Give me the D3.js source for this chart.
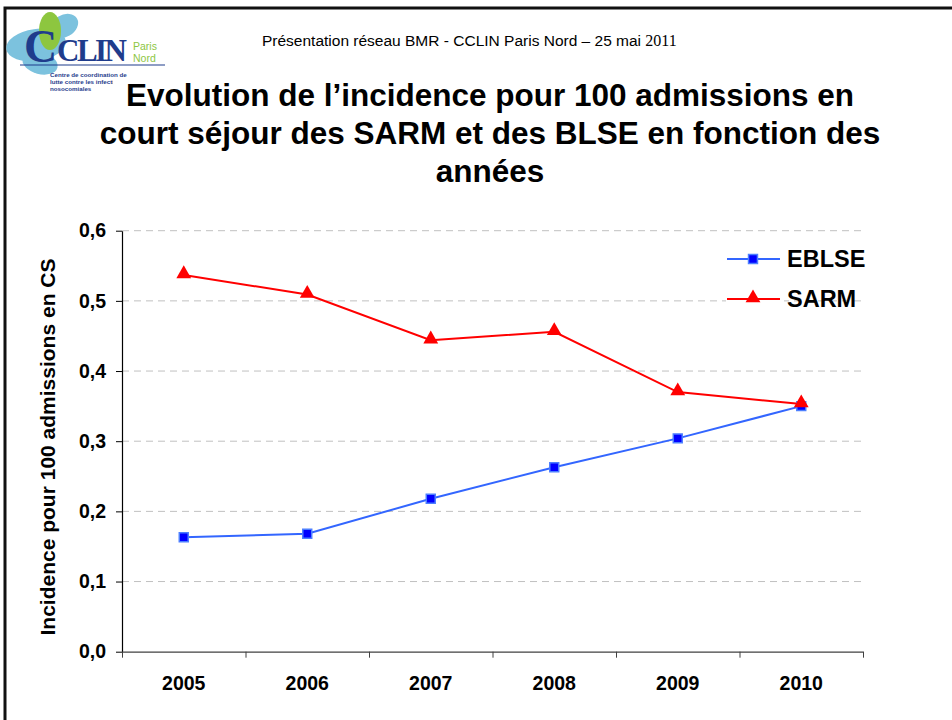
<!DOCTYPE html>
<html>
<head>
<meta charset="utf-8">
<script src="https://cdn.jsdelivr.net/npm/d3@7"></script>
<style>
  body { margin: 0; background: #fff; }
  svg { display: block; font-family: Arial, "Liberation Sans", sans-serif; }
</style>
</head>
<body>
<script>
// chart data
var years = ["2005", "2006", "2007", "2008", "2009", "2010"]
var eblse = [0.163, 0.168, 0.218, 0.263, 0.304, 0.350]
var sarm = [0.537, 0.509, 0.444, 0.456, 0.370, 0.353]
var yTicks = [0, 0.1, 0.2, 0.3, 0.4, 0.5, 0.6]
var seriesNames = ["EBLSE", "SARM"]
var titleLines = ["Evolution de l\u2019incidence pour 100 admissions en",
                  "court s\u00e9jour des SARM et des BLSE en fonction des",
                  "ann\u00e9es"]

var width = 952, height = 720
var margin = {left: 122, right: 89, top: 230.7, bottom: 68.3}

var svg = d3.select("body").append("svg")
    .attr("width", width)
    .attr("height", height)

/* slide frame */
svg.append("path")
    .attr("d", "M5,725 L5,8 L960,8")
    .attr("fill", "none")
    .attr("stroke", "#111")
    .attr("stroke-width", 3)

/* logo */
var logo = svg.append("g").attr("class", "logo")
var petal = "#7cc2de"
var navy = "#1f3c8c"
var green = "#8dc63f"
logo.append("ellipse").attr("cx", 36).attr("cy", 45).attr("rx", 30).attr("ry", 16)
    .attr("transform", "rotate(-8,36,45)").attr("fill", petal)
logo.append("ellipse").attr("cx", 64).attr("cy", 26).attr("rx", 15).attr("ry", 11)
    .attr("transform", "rotate(-30,64,26)").attr("fill", petal)
logo.append("ellipse").attr("cx", 40).attr("cy", 63).attr("rx", 18).attr("ry", 11)
    .attr("transform", "rotate(15,40,63)").attr("fill", petal)
logo.append("ellipse").attr("cx", 50).attr("cy", 31).attr("rx", 11).attr("ry", 19)
    .attr("fill", green)
logo.append("text").attr("x", 24).attr("y", 62)
    .attr("font-family", "'Liberation Serif', 'Times New Roman', serif")
    .attr("font-size", 46).attr("font-weight", "bold").attr("fill", navy)
    .text("C")
logo.append("text").attr("x", 57).attr("y", 61)
    .attr("font-family", "'Liberation Serif', 'Times New Roman', serif")
    .attr("font-size", 31).attr("font-weight", "bold").attr("fill", navy)
    .attr("textLength", 70)
    .text("CLIN")
logo.append("text").attr("x", 133).attr("y", 50)
    .attr("font-size", 10.5).attr("fill", green).text("Paris")
logo.append("text").attr("x", 133).attr("y", 62)
    .attr("font-size", 10.5).attr("fill", green).text("Nord")
logo.append("line").attr("x1", 20).attr("x2", 165).attr("y1", 65).attr("y2", 65)
    .attr("stroke", navy).attr("stroke-width", 1.2)
logo.append("clipPath").attr("id", "logoClip")
    .append("rect").attr("x", 0).attr("y", 79).attr("width", 113).attr("height", 20)
var small = logo.append("g")
    .attr("font-size", 6.2).attr("font-weight", "bold").attr("fill", navy)
small.append("text").attr("x", 50).attr("y", 77).text("Centre de coordination de")
small.append("text").attr("x", 50).attr("y", 84).attr("clip-path", "url(#logoClip)")
    .text("lutte contre les infections")
small.append("text").attr("x", 50).attr("y", 91).text("nosocomiales")

/* header */
var header = svg.append("text")
    .attr("x", 262).attr("y", 46)
    .attr("font-size", 15.5).attr("fill", "#000")
header.append("tspan").text("Pr\u00e9sentation r\u00e9seau BMR - CCLIN Paris Nord \u2013 25 mai ")
header.append("tspan").attr("font-family", "'Liberation Serif', 'Times New Roman', serif")
    .attr("font-size", 16).text("2011")

/* title */
svg.selectAll("text.title")
    .data(titleLines)
    .enter()
    .append("text")
    .attr("class", "title")
    .attr("x", 490)
    .attr("y", function(d, i) { return 106 + i * 38 })
    .attr("text-anchor", "middle")
    .attr("font-size", 31.5)
    .attr("font-weight", "bold")
    .text(function(d) { return d })

/* scales */
var x = d3.scaleBand()
    .domain(years)
    .range([margin.left, width - margin.right])

var xEdges = d3.scaleLinear()
    .domain([0, years.length])
    .range([margin.left, width - margin.right])

var y = d3.scaleLinear()
    .domain([0, 0.6])
    .range([height - margin.bottom, margin.top])

var fmt = function(d) { return d3.format(".1f")(d).replace(".", ",") }

/* gridlines */
svg.append("g")
    .selectAll("line")
    .data(yTicks.slice(1))
    .enter()
    .append("line")
    .attr("x1", margin.left)
    .attr("x2", width - margin.right)
    .attr("y1", function(d) { return y(d) })
    .attr("y2", function(d) { return y(d) })
    .attr("stroke", "#c0c0c0")
    .attr("stroke-width", 1)
    .attr("stroke-dasharray", "7,5")

/* y axis */
var yAxis = svg.append("g")
    .attr("transform", "translate(" + margin.left + ",0)")
    .call(d3.axisLeft(y).tickValues(yTicks).tickFormat(fmt).tickSize(6).tickSizeOuter(0).tickPadding(10))
yAxis.select(".domain").attr("stroke", "#000").attr("stroke-width", 1.2)
yAxis.selectAll(".tick line").attr("stroke", "#000")
yAxis.selectAll(".tick text")
    .attr("font-size", 19.5).attr("font-weight", "bold").attr("fill", "#000")
    .attr("font-family", "Arial, 'Liberation Sans', sans-serif")

/* x axis: marks at category edges, labels at centres */
var xTickAxis = svg.append("g")
    .attr("transform", "translate(0," + y(0) + ")")
    .call(d3.axisBottom(xEdges).tickValues(d3.range(years.length + 1)).tickFormat("").tickSize(6).tickSizeOuter(0))
xTickAxis.select(".domain").attr("stroke", "#404040").attr("stroke-width", 1.2)
xTickAxis.selectAll(".tick line").attr("stroke", "#404040")

var xLabelAxis = svg.append("g")
    .attr("transform", "translate(0," + y(0) + ")")
    .call(d3.axisBottom(x).tickSize(0).tickPadding(24))
xLabelAxis.select(".domain").remove()
xLabelAxis.selectAll(".tick text")
    .attr("font-size", 19.5).attr("font-weight", "bold").attr("fill", "#000")
    .attr("font-family", "Arial, 'Liberation Sans', sans-serif")

/* y axis title */
svg.append("text")
    .attr("transform", "translate(55,447) rotate(-90)")
    .attr("text-anchor", "middle")
    .attr("font-size", 21)
    .attr("font-weight", "bold")
    .text("Incidence pour 100 admissions en CS")

/* lines */
var line = d3.line()
    .x(function(d, i) { return x(years[i]) + x.bandwidth() / 2 })
    .y(function(d) { return y(d) })

svg.append("path")
    .datum(sarm)
    .attr("d", line)
    .attr("fill", "none")
    .attr("stroke", "#ff0000")
    .attr("stroke-width", 2)

svg.append("path")
    .datum(eblse)
    .attr("d", line)
    .attr("fill", "none")
    .attr("stroke", "#3366ff")
    .attr("stroke-width", 2)

var square = d3.symbol().type(d3.symbolSquare).size(80)
var triangle = d3.symbol().type(d3.symbolTriangle).size(95)

svg.append("g")
    .selectAll("path")
    .data(eblse)
    .enter()
    .append("path")
    .attr("d", square)
    .attr("transform", function(d, i) {
        return "translate(" + (x(years[i]) + x.bandwidth() / 2) + "," + y(d) + ")"
    })
    .attr("fill", "#0000ff")
    .attr("stroke", "#4d7fff")
    .attr("stroke-width", 1.5)

svg.append("g")
    .selectAll("path")
    .data(sarm)
    .enter()
    .append("path")
    .attr("d", triangle)
    .attr("transform", function(d, i) {
        return "translate(" + (x(years[i]) + x.bandwidth() / 2) + "," + (y(d) - 1) + ")"
    })
    .attr("fill", "#ff0000")

/* legend */
var legend = svg.append("g")
var legendY = [259, 299]
var legendColors = ["#3366ff", "#ff0000"]
seriesNames.forEach(function(name, i) {
    legend.append("rect")
        .attr("x", 726).attr("y", legendY[i] - 5).attr("width", 58).attr("height", 10)
        .attr("fill", "#fff")
    legend.append("line")
        .attr("x1", 727).attr("x2", 780)
        .attr("y1", legendY[i]).attr("y2", legendY[i])
        .attr("stroke", legendColors[i]).attr("stroke-width", 2)
    legend.append("path")
        .attr("d", i == 0 ? square : triangle)
        .attr("transform", "translate(753," + (legendY[i] - (i == 0 ? 0 : 1)) + ")")
        .attr("fill", i == 0 ? "#0000ff" : "#ff0000")
        .attr("stroke", i == 0 ? "#4d7fff" : "none")
        .attr("stroke-width", 1.5)
    legend.append("text")
        .attr("x", 787).attr("y", legendY[i] + 8)
        .attr("font-size", 23.5).attr("font-weight", "bold")
        .text(name)
})
</script>
</body>
</html>
